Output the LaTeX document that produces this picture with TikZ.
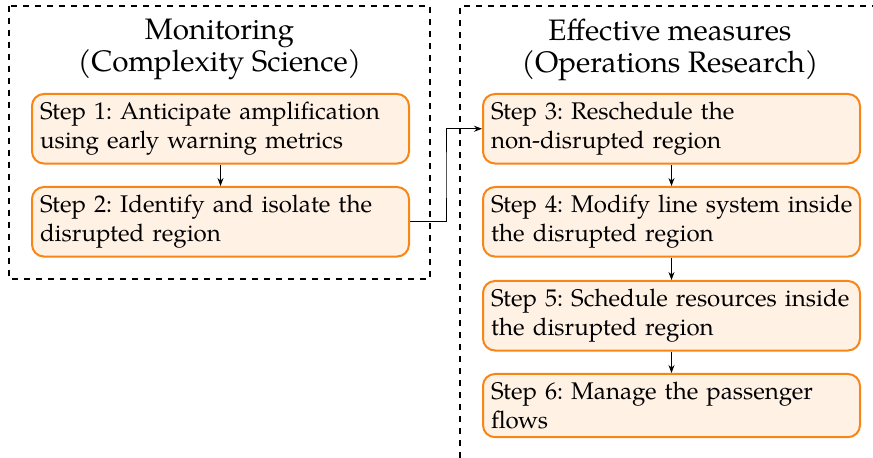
\documentclass[tikz,border=0pt]{standalone}
\usepackage{fontspec}
\setmainfont{TeX Gyre Pagella}
\usetikzlibrary{calc,arrows.meta}
\definecolor{boxorange}{RGB}{247,134,22}
\definecolor{boxfill}{RGB}{255,241,228}
\frenchspacing
\hyphenpenalty=10000
\exhyphenpenalty=10000
\hfuzz=20pt
\tikzset{
  stepbox/.style={draw=boxorange, fill=boxfill, line width=1pt, rounded corners=6pt,
    anchor=north west, text width=180.5pt, inner xsep=4pt, inner ysep=4.2pt, align=left,
    font=\fontsize{12.05}{14.2}\selectfont},
  frame/.style={dashed, line width=0.8pt},
  title/.style={anchor=north, inner sep=0pt, align=center, font=\fontsize{14.8}{16.2}\selectfont},
  conn/.style={-{Stealth[length=4pt,width=3pt]}, line width=0.4pt}
}
\begin{document}
\begin{tikzpicture}[x=0.5pt,y=-0.5pt]
\useasboundingbox (0,0) rectangle (873,458);
% frames
\draw[frame] (9,6) rectangle (430,279);
\draw[frame] (460,458) -- (460,6) -- (873,6);
% titles
\node[title] (t1) at (219.5,18.6) {Monitoring\\(Complexity Science)};
\node[title] (t2) at (670,18.6) {Effective measures\\(Operations Research)};
% boxes
\node[stepbox] (b1) at (31,93) {\mbox{Step 1: Anticipate amplification}\\using early warning metrics};
\node[stepbox] (b2) at (31,186) {\mbox{Step 2: Identify and isolate the}\\disrupted region};
\node[stepbox] (b3) at (482,93) {Step 3: Reschedule the\\non-disrupted region};
\node[stepbox] (b4) at (482,186) {\mbox{Step 4: Modify line system inside}\\the disrupted region};
\node[stepbox] (b5) at (482,280) {\mbox{Step 5: Schedule resources inside}\\the disrupted region};
\node[stepbox] (b6) at (482,373) {Step 6: Manage the passenger\\flows};
% connectors
\draw[conn] (b1.south) -- (b2.north);
\draw[conn] (b3.south) -- (b4.north);
\draw[conn] (b4.south) -- (b5.north);
\draw[conn] (b5.south) -- (b6.north);
\draw[conn] (b2.east) -| ($(b2.east)!0.5!(b3.west)$) |- (b3.west);
\end{tikzpicture}
\end{document}
